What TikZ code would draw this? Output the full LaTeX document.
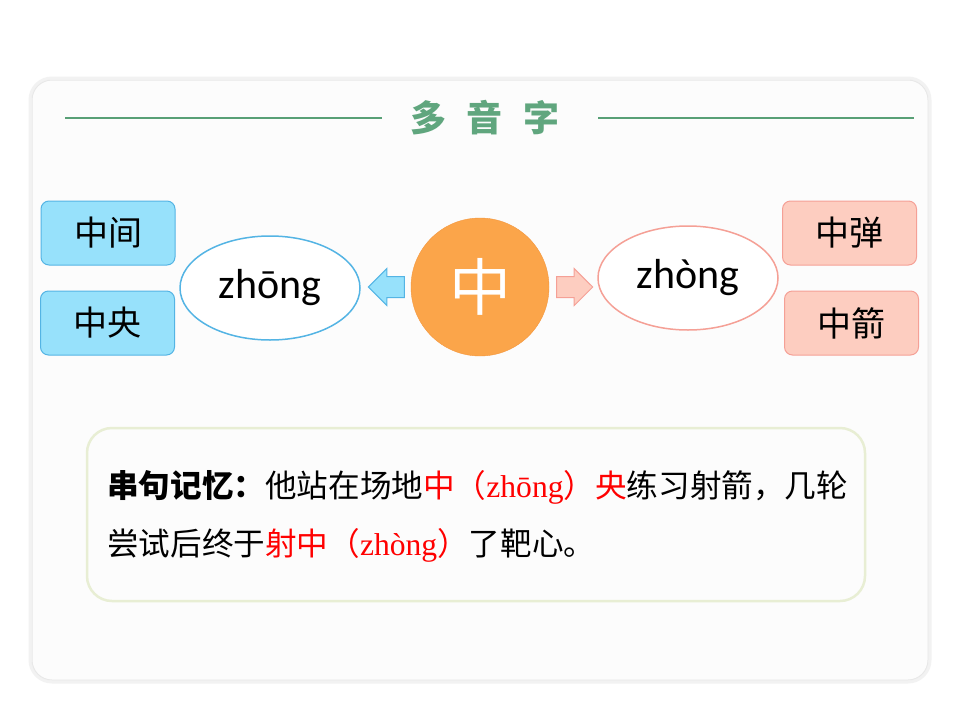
\documentclass[tikz,border=0pt]{standalone}
\usepackage{fontspec}
\setmainfont{Liberation Serif}
\newfontfamily\cjk{Noto Sans CJK SC}
\newfontfamily\pinyin{Carlito}
\usetikzlibrary{shapes.geometric,shapes.arrows,positioning}
\definecolor{titleGreen}{RGB}{96,166,126}
\definecolor{lineGreen}{RGB}{88,160,118}
\definecolor{skyFill}{RGB}{151,225,251}
\definecolor{skyEdge}{RGB}{84,180,228}
\definecolor{peachFill}{RGB}{253,205,192}
\definecolor{peachEdge}{RGB}{245,160,150}
\definecolor{orangeFill}{RGB}{251,165,74}
\definecolor{orangeEdge}{RGB}{244,150,60}
\definecolor{memoEdge}{RGB}{232,238,212}
\definecolor{panelFill}{RGB}{252,252,252}

\begin{document}
\begin{tikzpicture}[x=1pt,y=-1pt,
    word/.style={rounded corners=8pt,minimum width=134pt,minimum height=64pt,inner sep=0pt,
                 line width=1pt,font=\cjk\fontsize{34}{34}\selectfont},
    sound/.style={ellipse,minimum width=180pt,minimum height=104pt,fill=white,line width=1.5pt,
                  font=\pinyin\fontsize{42}{42}\selectfont},
    blockarrow/.style={single arrow,minimum height=36pt,inner xsep=0pt,inner ysep=10pt,
                       single arrow head extend=8pt,line width=1pt},
    memoline/.style={anchor=base west,inner sep=0pt,font=\cjk\fontsize{31.6}{31.6}\selectfont}
]
    \useasboundingbox (0,0) rectangle (960,720);
    \fill[white] (0,0) rectangle (960,720);

    \node[rounded corners=22pt,minimum width=900pt,minimum height=604pt,draw=black!5,line width=3pt] (shade) at (480,380) {};
    \node[rounded corners=20pt,minimum width=896pt,minimum height=600pt,fill=panelFill,draw=black!9,line width=1pt] (panel) at (480,380) {};

    \node[inner sep=0pt,text=titleGreen,font=\cjk\bfseries\fontsize{36}{36}\selectfont] (title) at (485,118) {多\hspace{21pt}音\hspace{21pt}字};
    \coordinate (ruleL) at (65,118);
    \coordinate (ruleR) at (914,118);
    \draw[lineGreen,line width=2.5pt] (ruleL) -- ([xshift=-28pt]title.west);
    \draw[lineGreen,line width=2.5pt] ([xshift=38pt]title.east) -- (ruleR);

    \node[word,fill=skyFill,draw=skyEdge] (zhongjian) at (108,233) {中间};
    \node[word,fill=skyFill,draw=skyEdge] (zhongyang) at (107.5,323) {中央};
    \node[sound,draw=skyEdge] (zhong1) at (270,288) {zhōng};

    \node[circle,minimum size=138pt,fill=orangeFill,draw=orangeEdge,text=white,
          font=\cjk\fontsize{62}{62}\selectfont] (hanzi) at (480,287) {中};
    \node[blockarrow,shape border rotate=180,fill=skyFill,draw=skyEdge,left=6pt of hanzi] (toLeft) {};
    \node[blockarrow,fill=peachFill,draw=peachEdge,right=7pt of hanzi] (toRight) {};

    \node[sound,draw=peachEdge] (zhong4) at (688,278) {zhòng};
    \node[word,fill=peachFill,draw=peachEdge] (zhongdan) at (849.5,233) {中弹};
    \node[word,fill=peachFill,draw=peachEdge] (zhongjian4) at (851.5,323) {中箭};

    \node[rounded corners=25pt,minimum width=778pt,minimum height=173pt,fill=panelFill,
          draw=memoEdge,line width=2.5pt] (memo) at (476,514.5) {};
    \node[memoline] (memoA) at (107,497) {{\bfseries 串句记忆：}他站在场地\textcolor{red}{中（{\rmfamily zhōng}）央}练习射箭，几轮};
    \node[memoline] (memoB) at (107,555) {尝试后终于\textcolor{red}{射中（{\rmfamily zhòng}）}了靶心。};
\end{tikzpicture}
\end{document}
